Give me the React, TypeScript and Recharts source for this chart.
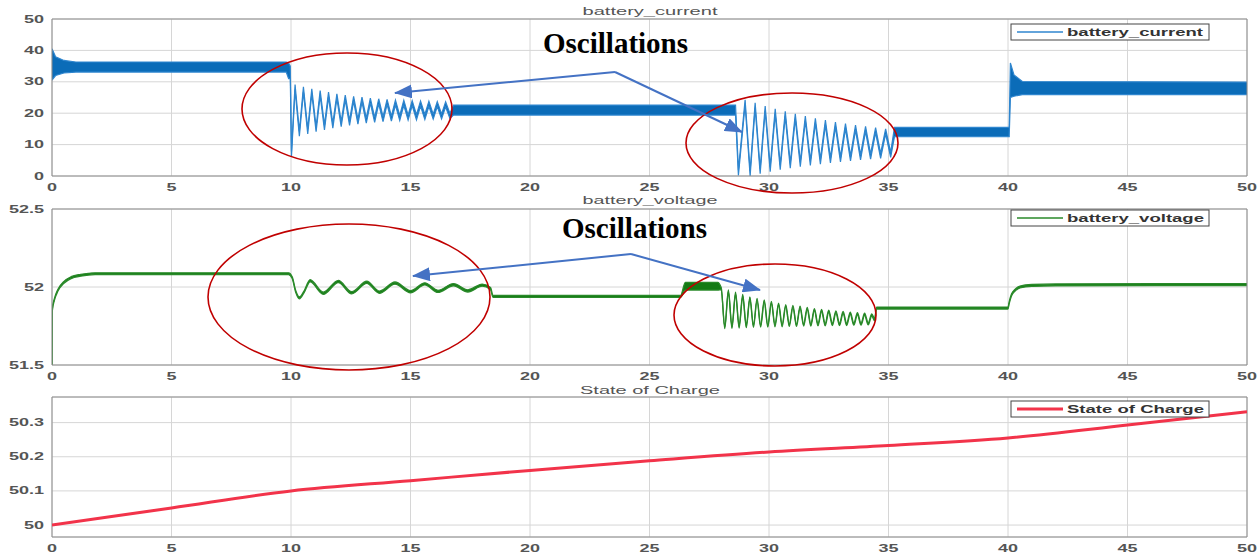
import React from 'react';
import { ComposedChart, Area, Line, XAxis, YAxis, CartesianGrid, ReferenceArea } from 'recharts';

const timeTicks = [0, 5, 10, 15, 20, 25, 30, 35, 40, 45, 50];
const currentTicks = [0, 10, 20, 30, 40, 50];
const voltageTicks = [51.5, 52, 52.5];
const socTicks = [50, 50.1, 50.2, 50.3];

// [time (s), mean value, half width of the switching ripple]
const batteryCurrent: number[][] = [
  [0, 35.5, 5], [0.15, 35, 3], [0.5, 34.8, 2], [1, 34.7, 1.6], [9.8, 34.7, 1.6],
  [9.9, 33.5, 2.5], [9.97, 33, 2], [10.02, 7, 0.8],
  // oscillation after the 10 s step
  [10.17, 28.3, 0.8], [10.35, 13.5, 0.8], [10.52, 27.6, 0.8], [10.7, 14.2, 0.8],
  [10.87, 27.0, 0.8], [11.05, 14.9, 0.8], [11.22, 26.4, 0.8], [11.4, 15.5, 0.8],
  [11.57, 25.9, 0.8], [11.75, 16.0, 0.8], [11.92, 25.4, 0.8], [12.1, 16.5, 0.8],
  [12.27, 25.0, 0.8], [12.45, 16.9, 0.8], [12.62, 24.6, 0.8], [12.8, 17.3, 0.8],
  [12.97, 24.3, 0.8], [13.15, 17.6, 0.8], [13.32, 24.0, 0.8], [13.5, 17.9, 0.8],
  [13.67, 23.8, 0.8], [13.85, 18.1, 0.8], [14.02, 23.6, 0.8], [14.2, 18.3, 0.8],
  [14.37, 23.4, 0.8], [14.55, 18.5, 0.8], [14.72, 23.3, 0.8], [14.9, 18.6, 0.8],
  [15.07, 23.2, 0.8], [15.25, 18.7, 0.8], [15.42, 23.1, 0.8], [15.6, 18.8, 0.8],
  [15.77, 23.0, 0.8], [15.95, 18.9, 0.8], [16.12, 22.9, 0.8], [16.3, 19.0, 0.8],
  [16.47, 22.8, 0.8], [16.65, 19.1, 0.8],
  [16.8, 21, 1.6], [28.6, 21, 1.6], [28.72, 1.0, 0.8],
  // oscillation after the 28.6 s step
  [29.0, 23.5, 0.8], [29.21, 0.8, 0.8], [29.42, 22.5, 0.8], [29.63, 1.5, 0.8],
  [29.84, 21.5, 0.8], [30.05, 2.2, 0.8], [30.26, 20.6, 0.8], [30.47, 2.8, 0.8],
  [30.68, 19.8, 0.8], [30.89, 3.3, 0.8], [31.1, 19.0, 0.8], [31.31, 3.8, 0.8],
  [31.52, 18.3, 0.8], [31.73, 4.2, 0.8], [31.94, 17.6, 0.8], [32.15, 4.6, 0.8],
  [32.36, 17.0, 0.8], [32.57, 5.0, 0.8], [32.78, 16.4, 0.8], [32.99, 5.3, 0.8],
  [33.2, 15.9, 0.8], [33.41, 5.6, 0.8], [33.62, 15.4, 0.8], [33.83, 5.9, 0.8],
  [34.04, 15.0, 0.8], [34.25, 6.2, 0.8], [34.46, 14.6, 0.8], [34.67, 6.4, 0.8],
  [34.88, 14.2, 0.8], [35.09, 6.7, 0.8],
  [35.25, 14, 1.5], [40.05, 14, 1.5], [40.1, 30.5, 5.5], [40.25, 28.8, 3.4],
  [40.6, 28, 2.1], [50, 27.9, 2.0],
];

const batteryVoltage: number[][] = [
  [0, 51.5, 0.004], [0.01, 51.85, 0.006], [0.1, 51.92, 0.006], [0.25, 51.98, 0.006],
  [0.5, 52.03, 0.006], [0.8, 52.06, 0.006], [1.2, 52.075, 0.006], [1.8, 52.085, 0.006],
  [9.9, 52.085, 0.006], [10.05, 52.06, 0.006], [10.2, 51.97, 0.006], [10.35, 51.93, 0.006],
  [10.55, 51.97, 0.006],
  [10.8, 52.04, 0.007], [11.35, 51.96, 0.007], [11.98, 52.035, 0.007], [12.54, 51.963, 0.007],
  [13.17, 52.03, 0.007], [13.7, 51.967, 0.007], [14.35, 52.025, 0.007], [15.0, 51.97, 0.007],
  [15.6, 52.02, 0.007], [16.15, 51.972, 0.007], [16.8, 52.015, 0.007], [17.4, 51.975, 0.007],
  [18.0, 52.012, 0.007], [18.35, 51.99, 0.007],
  [18.45, 51.94, 0.006], [26.3, 51.94, 0.006], [26.5, 52.005, 0.025], [27.85, 52.005, 0.025],
  [28.0, 51.99, 0.007], [28.15, 51.74, 0.007], [28.3, 51.975, 0.007], [28.45, 51.742, 0.007],
  [28.6, 51.96, 0.007], [28.75, 51.744, 0.007], [28.9, 51.945, 0.007], [29.05, 51.746, 0.007],
  [29.2, 51.93, 0.007], [29.35, 51.748, 0.007], [29.5, 51.92, 0.007], [29.65, 51.75, 0.007],
  [29.8, 51.91, 0.007], [29.95, 51.75, 0.007], [30.1, 51.9, 0.007], [30.25, 51.752, 0.007],
  [30.4, 51.89, 0.007], [30.55, 51.752, 0.007], [30.7, 51.88, 0.007], [30.85, 51.754, 0.007],
  [31.0, 51.875, 0.007], [31.15, 51.754, 0.007], [31.3, 51.87, 0.007], [31.45, 51.756, 0.007],
  [31.6, 51.862, 0.007], [31.75, 51.756, 0.007], [31.9, 51.855, 0.007], [32.05, 51.758, 0.007],
  [32.2, 51.85, 0.007], [32.35, 51.758, 0.007], [32.5, 51.845, 0.007], [32.65, 51.76, 0.007],
  [32.8, 51.84, 0.007], [32.95, 51.76, 0.007], [33.1, 51.836, 0.007], [33.25, 51.76, 0.007],
  [33.4, 51.832, 0.007], [33.55, 51.762, 0.007], [33.7, 51.828, 0.007], [33.85, 51.762, 0.007],
  [34.0, 51.825, 0.007], [34.15, 51.764, 0.007], [34.3, 51.82, 0.007], [34.42, 51.79, 0.007],
  [34.5, 51.865, 0.006], [40.0, 51.865, 0.006], [40.05, 51.9, 0.006], [40.15, 51.95, 0.006],
  [40.3, 51.98, 0.006], [40.5, 52.0, 0.006], [41.0, 52.01, 0.006], [42.0, 52.014, 0.006],
  [50, 52.015, 0.006],
];

const socTime = [0, 5, 10, 15, 20, 25, 30, 35, 40, 45, 50];
const socValue = [50.0, 50.05, 50.1, 50.13, 50.16, 50.188, 50.214, 50.233, 50.255, 50.293, 50.332];

const currentData = batteryCurrent.map(([t, v, r]) => ({ t, band: [v - r, v + r] }));
const voltageData = batteryVoltage.map(([t, v, r]) => ({ t, band: [v - r, v + r] }));
const socData = socTime.map((t, i) => ({ t, soc: socValue[i] }));

const FONT = 'Liberation Sans, Arial, sans-serif';

function XTick({ x, y, payload }: any) {
  return (
    <text transform={`translate(${x},${y + 6.5}) scale(1.8,1)`} textAnchor="middle"
      fontFamily={FONT} fontSize={10} fontWeight="bold" fill="#555">
      {payload.value}
    </text>
  );
}

function YTick({ x, y, payload }: any) {
  return (
    <text transform={`translate(${x},${y + 3.5}) scale(1.8,1)`} textAnchor="end"
      fontFamily={FONT} fontSize={10} fontWeight="bold" fill="#555">
      {payload.value}
    </text>
  );
}

function Panel({ top, height, data, yDomain, yTicks, children }: any) {
  return (
    <div style={{ position: 'absolute', left: 0, top }}>
      <ComposedChart width={1259} height={height} data={data}
        margin={{ top: 19, right: 12, bottom: 0, left: 8 }}>
        <CartesianGrid stroke="#d6d6d6" />
        <XAxis dataKey="t" type="number" domain={[0, 50]} ticks={timeTicks} tick={XTick}
          tickLine={false} axisLine={false} height={18} allowDataOverflow />
        <YAxis type="number" domain={yDomain} ticks={yTicks} tick={YTick}
          tickLine={false} axisLine={false} width={44} allowDataOverflow />
        {children}
        <ReferenceArea x1={0} x2={50} y1={yDomain[0]} y2={yDomain[1]} fill="none"
          stroke="#8c8c8c" strokeWidth={1} />
      </ComposedChart>
    </div>
  );
}

function LegendBox({ y, color, width, label, textLen }: any) {
  return (
    <g>
      <rect x={1011} y={y} width={198} height={16} fill="#fff" stroke="#444" strokeWidth={1} />
      <line x1={1017} x2={1063} y1={y + 8} y2={y + 8} stroke={color} strokeWidth={width} />
      <text x={1067} y={y + 12} fontFamily={FONT} fontSize={10} fontWeight="bold" fill="#333"
        textLength={textLen} lengthAdjust="spacingAndGlyphs">{label}</text>
    </g>
  );
}

function Title({ y, label, len }: any) {
  return (
    <text x={650 - len / 2} y={y} fontFamily={FONT} fontSize={11} fill="#555"
      textLength={len} lengthAdjust="spacingAndGlyphs">{label}</text>
  );
}

export default function App() {
  return (
    <div style={{ position: 'absolute', left: 0, top: 0, width: 1259, height: 555, background: '#fff', overflow: 'hidden' }}>
      <Panel top={0} height={194} data={currentData} yDomain={[0, 50]} yTicks={currentTicks}>
        <Area dataKey="band" type="linear" stroke="#2f86cf" strokeWidth={1.2} fill="#0b6cb8"
          fillOpacity={1} dot={false} activeDot={false} isAnimationActive={false} />
      </Panel>
      <Panel top={190} height={193} data={voltageData} yDomain={[51.5, 52.5]} yTicks={voltageTicks}>
        <Area dataKey="band" type="monotone" stroke="#2a8a2a" strokeWidth={1.3} fill="#137a13"
          fillOpacity={1} dot={false} activeDot={false} isAnimationActive={false} />
      </Panel>
      <Panel top={378} height={177} data={socData} yDomain={[49.965, 50.375]} yTicks={socTicks}>
        <Line dataKey="soc" type="monotone" stroke="#f2334a" strokeWidth={3} dot={false}
          activeDot={false} isAnimationActive={false} />
      </Panel>

      <svg width={1259} height={555} style={{ position: 'absolute', left: 0, top: 0, pointerEvents: 'none' }}>
        <defs>
          <marker id="head" markerUnits="userSpaceOnUse" markerWidth={18} markerHeight={14}
            refX={17} refY={7} orient="auto">
            <path d="M0,0 L18,7 L0,14 Z" fill="#4472c4" />
          </marker>
        </defs>

        <Title y={15} label="battery_current" len={135} />
        <Title y={204} label="battery_voltage" len={135} />
        <Title y={394} label="State of Charge" len={140} />

        <LegendBox y={24} color="#2f86cf" width={1.5} label="battery_current" textLen={136} />
        <LegendBox y={210} color="#2a8a2a" width={1.5} label="battery_voltage" textLen={137} />
        <LegendBox y={401} color="#f2334a" width={3} label="State of Charge" textLen={137} />

        <g fill="none" stroke="#c00000" strokeWidth={1.6}>
          <ellipse cx={347} cy={109} rx={105} ry={56} />
          <ellipse cx={792} cy={143} rx={106} ry={50} />
          <ellipse cx={349} cy={297} rx={141} ry={73} />
          <ellipse cx={775} cy={315} rx={101} ry={51} />
        </g>

        <g stroke="#4472c4" strokeWidth={2} fill="none">
          <line x1={615} y1={72} x2={395} y2={93} markerEnd="url(#head)" />
          <line x1={615} y1={72} x2={742} y2={132} markerEnd="url(#head)" />
          <line x1={631} y1={254} x2={413} y2={276} markerEnd="url(#head)" />
          <line x1={631} y1={254} x2={760} y2={290} markerEnd="url(#head)" />
        </g>

        <text x={543} y={53} fontFamily="Liberation Serif, Times New Roman, serif" fontWeight="bold"
          fontSize={29} fill="#000">Oscillations</text>
        <text x={562} y={238} fontFamily="Liberation Serif, Times New Roman, serif" fontWeight="bold"
          fontSize={29} fill="#000">Oscillations</text>
      </svg>
    </div>
  );
}
